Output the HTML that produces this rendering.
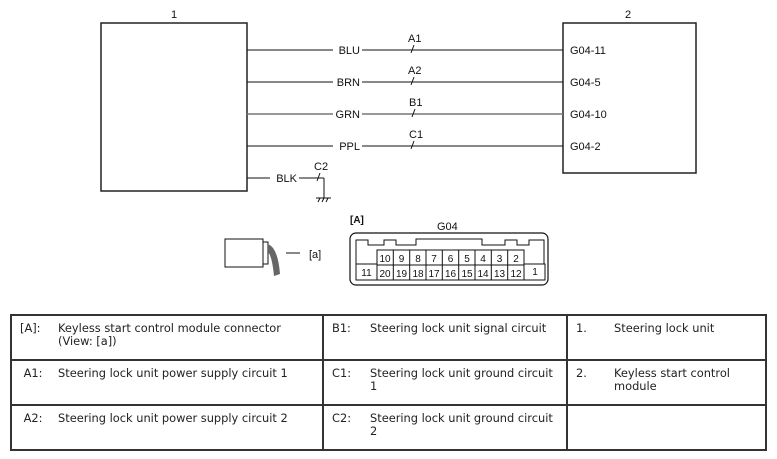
<!DOCTYPE html>
<html><head><meta charset="utf-8"><style>
body{margin:0;background:#fff;width:777px;height:459px;overflow:hidden;position:relative;font-family:"DejaVu Sans",Verdana,sans-serif}
svg{position:absolute;left:0;top:0}
table{position:absolute;left:10px;top:314px;width:757px;height:135px;border-collapse:collapse;font-size:11.4px;color:#222}
td{border:2px solid #333;vertical-align:top;padding:6px 6px 0 8px;height:37px;line-height:13px}
td span{display:inline-block;width:38px}
.c{display:flex}
.c span{flex:none}
</style></head><body>
<svg width="777" height="310" font-family="Liberation Sans, Arial, sans-serif" font-size="11" fill="#111">
<rect x="101" y="23" width="146" height="168" fill="none" stroke="#222" stroke-width="1.5"/>
<rect x="563" y="23" width="133" height="150" fill="none" stroke="#222" stroke-width="1.5"/>
<text x="174" y="18" text-anchor="middle">1</text>
<text x="628" y="18" text-anchor="middle">2</text>
<g stroke="#111" stroke-width="1">
<line x1="247" y1="50" x2="333" y2="50"/><line x1="362" y1="50" x2="563" y2="50"/>
<line x1="247" y1="82" x2="333" y2="82"/><line x1="362" y1="82" x2="563" y2="82"/>
<line x1="247" y1="114" x2="333" y2="114" stroke="#777" stroke-width="1.5"/><line x1="362" y1="114" x2="563" y2="114" stroke="#777" stroke-width="1.5"/>
<line x1="247" y1="146" x2="333" y2="146"/><line x1="362" y1="146" x2="563" y2="146"/>
<line x1="247" y1="178" x2="270" y2="178"/><line x1="299" y1="178" x2="324" y2="178"/>
<line x1="324" y1="178" x2="324" y2="198"/>
<line x1="316" y1="198" x2="331" y2="198"/>
<line x1="318" y1="202" x2="320" y2="198"/><line x1="322" y1="202" x2="324" y2="198"/><line x1="326" y1="202" x2="328" y2="198"/>
<line x1="411" y1="53" x2="414" y2="45"/><line x1="411" y1="85" x2="414" y2="77"/>
<line x1="412" y1="117" x2="415" y2="109"/><line x1="411" y1="149" x2="414" y2="141"/>
<line x1="317" y1="181" x2="320" y2="173"/>
</g>
<g text-anchor="end"><text x="360" y="54">BLU</text><text x="360" y="86">BRN</text><text x="360" y="118">GRN</text><text x="360" y="150">PPL</text><text x="297" y="182">BLK</text></g>
<text x="408" y="42">A1</text><text x="408" y="74">A2</text><text x="409" y="106">B1</text><text x="409" y="138">C1</text><text x="314" y="170">C2</text>
<g><text x="570" y="54">G04-11</text><text x="570" y="86">G04-5</text><text x="570" y="118">G04-10</text><text x="570" y="150">G04-2</text></g>
<rect x="225" y="239" width="38" height="28" fill="#fff" stroke="#111"/>
<rect x="263" y="242" width="5" height="22" fill="#fff" stroke="#111"/>
<path d="M268 244 q10 4 12 30 l-6 2 q-2 -20 -6 -24z" fill="#666"/>
<line x1="286" y1="253" x2="300" y2="253" stroke="#111"/>
<text x="309" y="258">[a]</text>
<text x="350" y="223" font-weight="bold" font-size="10">[A]</text>
<text x="437" y="230">G04</text>
<rect x="350" y="233" width="198" height="52" rx="6" fill="none" stroke="#111" stroke-width="1.2"/>
<path d="M356 264 V240 H368 V245 H384 V240 H396 V245 H416 V239 H482 V245 H505 V240 H517 V245 H529 V240 H544 V264" fill="none" stroke="#111"/>
<g fill="none" stroke="#111">
<rect x="377" y="250" width="147" height="30"/><line x1="377" y1="265" x2="524" y2="265"/>
<rect x="356" y="264" width="21" height="16"/><rect x="524" y="264" width="21" height="16"/>
<line x1="393.3" y1="250" x2="393.3" y2="280"/><line x1="409.7" y1="250" x2="409.7" y2="280"/><line x1="426" y1="250" x2="426" y2="280"/><line x1="442.3" y1="250" x2="442.3" y2="280"/><line x1="458.7" y1="250" x2="458.7" y2="280"/><line x1="475" y1="250" x2="475" y2="280"/><line x1="491.3" y1="250" x2="491.3" y2="280"/><line x1="507.7" y1="250" x2="507.7" y2="280"/>
</g>
<g font-size="10" text-anchor="middle">
<text x="385" y="262">10</text><text x="401.5" y="262">9</text><text x="418" y="262">8</text><text x="434" y="262">7</text><text x="450.5" y="262">6</text><text x="467" y="262">5</text><text x="483" y="262">4</text><text x="499.5" y="262">3</text><text x="516" y="262">2</text>
<text x="385" y="277">20</text><text x="401.5" y="277">19</text><text x="418" y="277">18</text><text x="434" y="277">17</text><text x="450.5" y="277">16</text><text x="467" y="277">15</text><text x="483" y="277">14</text><text x="499.5" y="277">13</text><text x="516" y="277">12</text>
<text x="366.5" y="276">11</text><text x="535" y="275">1</text>
</g>
</svg>
<table>
<tr><td style="width:296px"><div class="c"><span>[A]:</span><div>Keyless start control module connector (View: [a])</div></div></td><td style="width:228px"><div class="c"><span>B1:</span><div>Steering lock unit signal circuit</div></div></td><td><div class="c"><span>1.</span><div>Steering lock unit</div></div></td></tr>
<tr><td><div class="c"><span>&nbsp;A1:</span><div>Steering lock unit power supply circuit 1</div></div></td><td><div class="c"><span>C1:</span><div>Steering lock unit ground circuit 1</div></div></td><td><div class="c"><span>2.</span><div>Keyless start control module</div></div></td></tr>
<tr><td><div class="c"><span>&nbsp;A2:</span><div>Steering lock unit power supply circuit 2</div></div></td><td><div class="c"><span>C2:</span><div>Steering lock unit ground circuit 2</div></div></td><td></td></tr>
</table>
</body></html>
